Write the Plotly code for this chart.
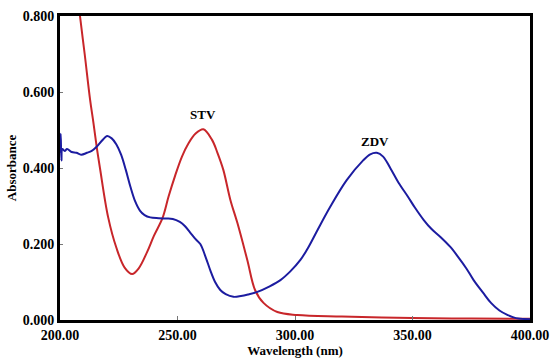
import plotly.graph_objects as go

# STV (red) spectrum
stv_wl = [205, 208.5, 210.5, 212.8, 214.2, 215.6, 217, 220.5, 224, 227.5, 230.7, 233.5, 237, 240,
          243.6, 246.2, 249, 251.9, 254.7, 257.6, 261, 264.7, 267, 269.5, 272.5, 275.5, 279.7,
          283, 286.6, 292.5, 301, 320, 350, 375, 400]
stv_abs = [1.00, 0.80, 0.70, 0.58, 0.52, 0.456, 0.40, 0.27, 0.19, 0.138, 0.121, 0.136, 0.178, 0.222,
           0.268, 0.325, 0.38, 0.43, 0.465, 0.49, 0.502, 0.474, 0.44, 0.395, 0.316, 0.255, 0.158,
           0.079, 0.045, 0.021, 0.013, 0.009, 0.005, 0.004, 0.003]

# ZDV (blue) spectrum
zdv_wl = [200, 200.3, 200.6, 201, 202, 203, 205, 207, 209, 211.5, 213.5, 215.6, 218, 220, 222,
          224, 226, 228, 230, 232, 234, 236, 238.4, 242, 245, 248, 251, 253, 255.4, 257.5, 259.7,
          262, 264, 266, 268.2, 270.5, 273.8, 277, 280, 284, 289, 293.8, 298, 302.3, 306, 309.6, 315,
          322, 329, 332, 334.8, 337.5, 340.7, 344, 348, 351, 354.8, 358, 362, 366, 369.3, 373,
          376, 380, 383.4, 387, 390.6, 393, 395, 400]
zdv_abs = [0.44, 0.49, 0.42, 0.45, 0.445, 0.45, 0.442, 0.44, 0.435, 0.44, 0.445, 0.456, 0.473, 0.484, 0.478,
           0.462, 0.435, 0.395, 0.35, 0.312, 0.288, 0.276, 0.27, 0.268, 0.267, 0.266, 0.258, 0.248, 0.23, 0.214, 0.20,
           0.165, 0.13, 0.10, 0.079, 0.068, 0.061, 0.063, 0.067, 0.074, 0.088, 0.105, 0.128, 0.158, 0.195, 0.237, 0.298,
           0.368, 0.42, 0.436, 0.44, 0.43, 0.398, 0.362, 0.325, 0.296, 0.263, 0.24, 0.218, 0.193, 0.167, 0.135,
           0.105, 0.072, 0.045, 0.025, 0.013, 0.007, 0.004, 0.002]

x_ticks = [200, 250, 300, 350, 400]
x_tick_text = ["200.00", "250.00", "300.00", "350.00", "400.00"]
y_ticks = [0, 0.2, 0.4, 0.6, 0.8]
y_tick_text = ["0.000", "0.200", "0.400", "0.600", "0.800"]

labels = ["STV", "ZDV"]
label_x = [261, 334]
label_y = [0.54, 0.47]

font_family = "Liberation Serif"

fig = go.Figure()
fig.add_trace(go.Scatter(x=stv_wl, y=stv_abs, mode="lines",
                         line=dict(color="#c8262a", width=2, shape="spline", smoothing=1.0),
                         showlegend=False, cliponaxis=True))
fig.add_trace(go.Scatter(x=zdv_wl, y=zdv_abs, mode="lines",
                         line=dict(color="#1c1ca0", width=2, shape="spline", smoothing=1.0),
                         showlegend=False, cliponaxis=True))

for t, xx, yy in zip(labels, label_x, label_y):
    fig.add_annotation(x=xx, y=yy, text="<b>%s</b>" % t, showarrow=False,
                       font=dict(family=font_family, size=13, color="black"))

fig.update_layout(
    width=550, height=362,
    margin=dict(l=60, r=20, t=16, b=42),
    paper_bgcolor="white", plot_bgcolor="white",
    font=dict(family=font_family, color="black"),
)
fig.update_xaxes(
    range=[200, 400], tickvals=x_ticks, ticktext=["<b>%s</b>" % s for s in x_tick_text],
    tickfont=dict(family=font_family, size=14, color="black"),
    showline=True, linewidth=3, linecolor="black", mirror=True,
    ticks="inside", ticklen=4, tickcolor="#777777", tickwidth=1,
    showgrid=False, zeroline=False, automargin=False,
    title=dict(text="<b>Wavelength (nm)</b>", font=dict(family=font_family, size=13), standoff=2),
)
fig.update_yaxes(
    range=[0, 0.8], tickvals=y_ticks, ticktext=["<b>%s</b>" % s for s in y_tick_text],
    tickfont=dict(family=font_family, size=14, color="black"),
    showline=True, linewidth=3, linecolor="black", mirror=True,
    ticks="inside", ticklen=3, tickcolor="#777777", tickwidth=1,
    showgrid=False, zeroline=False, automargin=False,
    title=dict(text="<b>Absorbance</b>", font=dict(family=font_family, size=13), standoff=4),
)

fig.write_html("out.html")
